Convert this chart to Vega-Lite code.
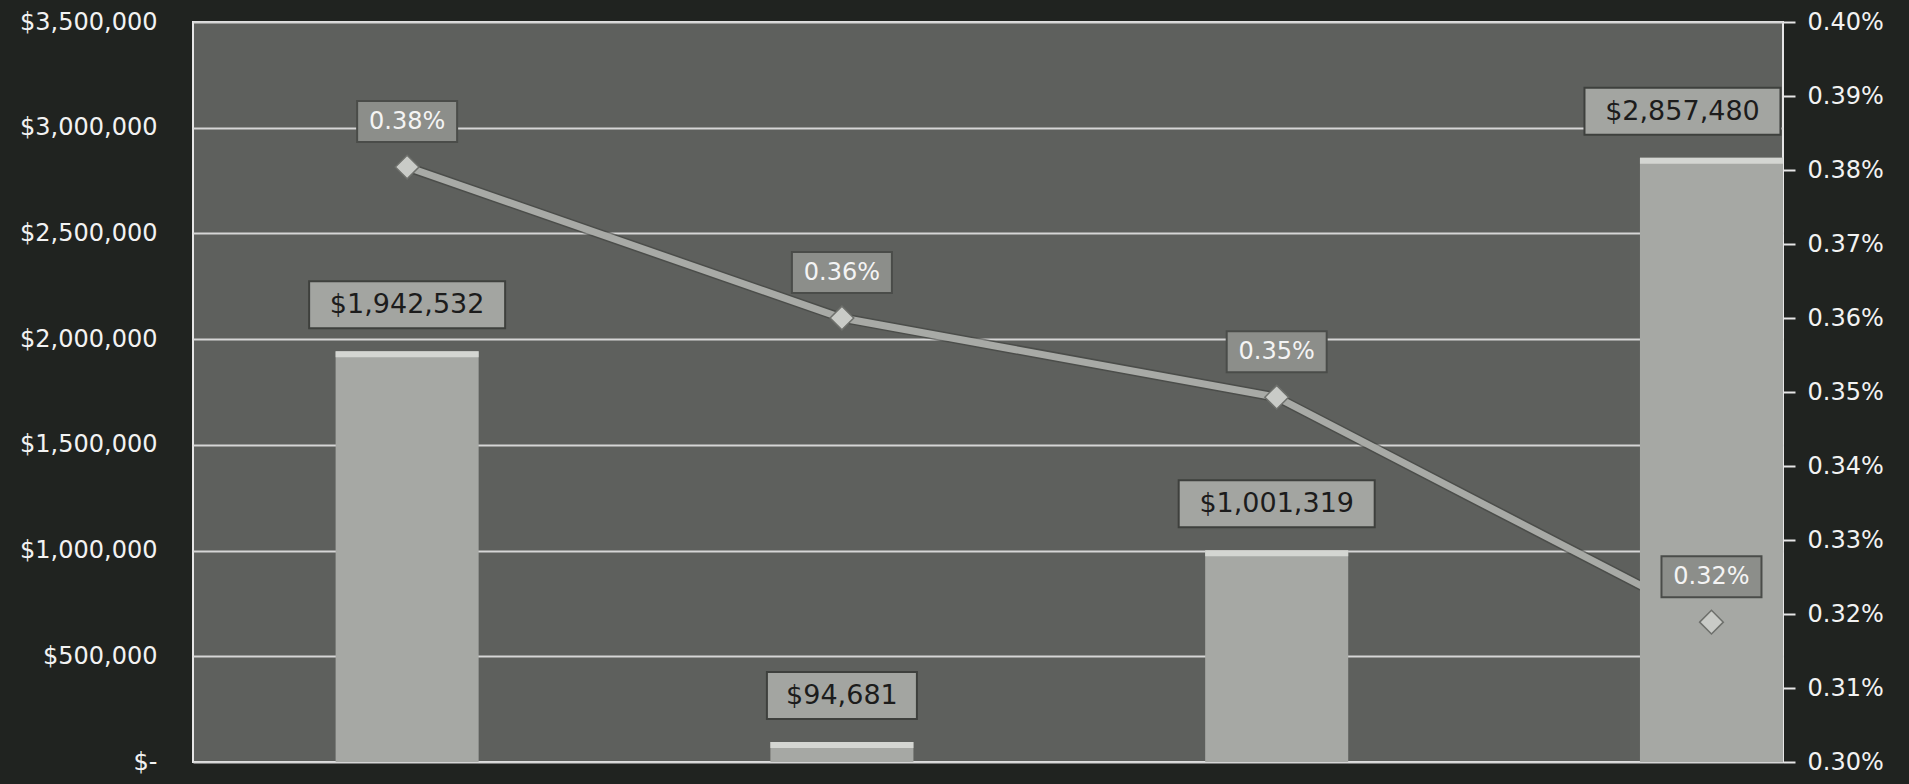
{
  "$schema": "https://vega.github.io/schema/vega-lite/v6.json",
  "width": 1590,
  "height": 740,
  "autosize": {"type": "none"},
  "padding": {"left": 193, "top": 22, "right": 126, "bottom": 22},
  "background": "#202320",
  "config": {
    "font": "DejaVu Sans",
    "view": {"fill": "#5e605d", "stroke": "#e6e6e6", "strokeWidth": 2},
    "axis": {"labelColor": "#f2f2f2", "labelFont": "DejaVu Sans", "labelFontSize": 24, "labelFontWeight": "normal", "title": null}
  },
  "data": {
    "values": [
      {"category": "Group 1", "amount": 1942532, "rate": 0.003804},
      {"category": "Group 2", "amount": 94681, "rate": 0.0036},
      {"category": "Group 3", "amount": 1001319, "rate": 0.003493},
      {"category": "Group 4", "amount": 2857480, "rate": 0.003189}
    ]
  },
  "encoding": {
    "x": {
      "field": "category",
      "type": "nominal",
      "sort": null,
      "scale": {"type": "band", "paddingInner": 0.671, "paddingOuter": 0.164, "align": 1},
      "axis": null
    }
  },
  "layer": [
    {
      "mark": {"type": "line", "stroke": "#3f413e", "strokeWidth": 10, "strokeCap": "round", "opacity": 0.6},
      "encoding": {
        "y": {
          "field": "rate", "type": "quantitative",
          "scale": {"domain": [0.003, 0.004], "nice": false, "zero": false},
          "axis": {
            "orient": "right",
            "values": [0.003, 0.0031, 0.0032, 0.0033, 0.0034, 0.0035, 0.0036, 0.0037, 0.0038, 0.0039, 0.004],
            "format": ".2%",
            "grid": false, "domain": false,
            "ticks": true, "tickSize": 12, "tickColor": "#e6e6e6", "tickWidth": 2,
            "labelPadding": 12
          }
        }
      }
    },
    {
      "mark": {"type": "line", "stroke": "#a8aaa6", "strokeWidth": 7, "strokeCap": "round"},
      "encoding": {
        "y": {"field": "rate", "type": "quantitative", "scale": {"domain": [0.003, 0.004], "nice": false, "zero": false}, "axis": null}
      }
    },
    {
      "mark": {"type": "bar", "fill": "#a6a8a4"},
      "encoding": {
        "y": {
          "field": "amount", "type": "quantitative",
          "scale": {"domain": [0, 3500000], "nice": false},
          "axis": {
            "orient": "left",
            "values": [0, 500000, 1000000, 1500000, 2000000, 2500000, 3000000, 3500000],
            "labelExpr": "datum.value === 0 ? '$-' : format(datum.value, '$,.0f')",
            "grid": true, "gridColor": "#d6d6d6", "gridWidth": 2,
            "domain": false, "ticks": false, "tickSize": 0, "labelPadding": 36
          }
        }
      }
    },
    {
      "mark": {"type": "bar", "fill": "#d4d6d2", "y2Offset": 6},
      "encoding": {
        "y": {"field": "amount", "type": "quantitative", "scale": {"domain": [0, 3500000], "nice": false}, "axis": null},
        "y2": {"field": "amount"}
      }
    },
    {
      "mark": {"type": "point", "shape": "diamond", "filled": true, "size": 560, "fill": "#c9cbc7", "stroke": "#6e706c", "strokeWidth": 1.5, "opacity": 1},
      "encoding": {
        "y": {"field": "rate", "type": "quantitative", "scale": {"domain": [0.003, 0.004], "nice": false, "zero": false}, "axis": null}
      }
    },
    {
      "mark": {"type": "bar", "width": 100, "fill": "#8c8e8a", "stroke": "#4a4c49", "strokeWidth": 2, "yOffset": -66, "y2Offset": -25},
      "encoding": {
        "y": {"field": "rate", "type": "quantitative", "scale": {"domain": [0.003, 0.004], "nice": false, "zero": false}, "axis": null},
        "y2": {"field": "rate"}
      }
    },
    {
      "mark": {"type": "text", "dy": -45, "fontSize": 24, "fill": "#f4f4f4", "baseline": "middle", "align": "center"},
      "encoding": {
        "y": {"field": "rate", "type": "quantitative", "scale": {"domain": [0.003, 0.004], "nice": false, "zero": false}, "axis": null},
        "text": {"field": "rate", "type": "quantitative", "format": ".2%"}
      }
    },
    {
      "transform": [{"filter": "datum.amount >= 1000000 && datum.category !== 'Group 4'"}],
      "mark": {"type": "bar", "width": 196, "fill": "#a3a5a1", "stroke": "#3e403d", "strokeWidth": 2, "yOffset": -70, "y2Offset": -23},
      "encoding": {
        "y": {"field": "amount", "type": "quantitative", "scale": {"domain": [0, 3500000], "nice": false}, "axis": null},
        "y2": {"field": "amount"}
      }
    },
    {
      "transform": [{"filter": "datum.amount < 1000000"}],
      "mark": {"type": "bar", "width": 150, "fill": "#a3a5a1", "stroke": "#3e403d", "strokeWidth": 2, "yOffset": -70, "y2Offset": -23},
      "encoding": {
        "y": {"field": "amount", "type": "quantitative", "scale": {"domain": [0, 3500000], "nice": false}, "axis": null},
        "y2": {"field": "amount"}
      }
    },
    {
      "transform": [{"filter": "datum.category === 'Group 4'"}],
      "mark": {"type": "bar", "width": 196, "xOffset": -29, "fill": "#a3a5a1", "stroke": "#3e403d", "strokeWidth": 2, "yOffset": -70, "y2Offset": -23},
      "encoding": {
        "y": {"field": "amount", "type": "quantitative", "scale": {"domain": [0, 3500000], "nice": false}, "axis": null},
        "y2": {"field": "amount"}
      }
    },
    {
      "transform": [{"filter": "datum.category !== 'Group 4'"}],
      "mark": {"type": "text", "dy": -46, "fontSize": 27, "fill": "#1c1c1c", "baseline": "middle", "align": "center"},
      "encoding": {
        "y": {"field": "amount", "type": "quantitative", "scale": {"domain": [0, 3500000], "nice": false}, "axis": null},
        "text": {"field": "amount", "type": "quantitative", "format": "$,.0f"}
      }
    },
    {
      "transform": [{"filter": "datum.category === 'Group 4'"}],
      "mark": {"type": "text", "dy": -46, "dx": -29, "fontSize": 27, "fill": "#1c1c1c", "baseline": "middle", "align": "center"},
      "encoding": {
        "y": {"field": "amount", "type": "quantitative", "scale": {"domain": [0, 3500000], "nice": false}, "axis": null},
        "text": {"field": "amount", "type": "quantitative", "format": "$,.0f"}
      }
    }
  ],
  "resolve": {"scale": {"y": "independent"}}
}
